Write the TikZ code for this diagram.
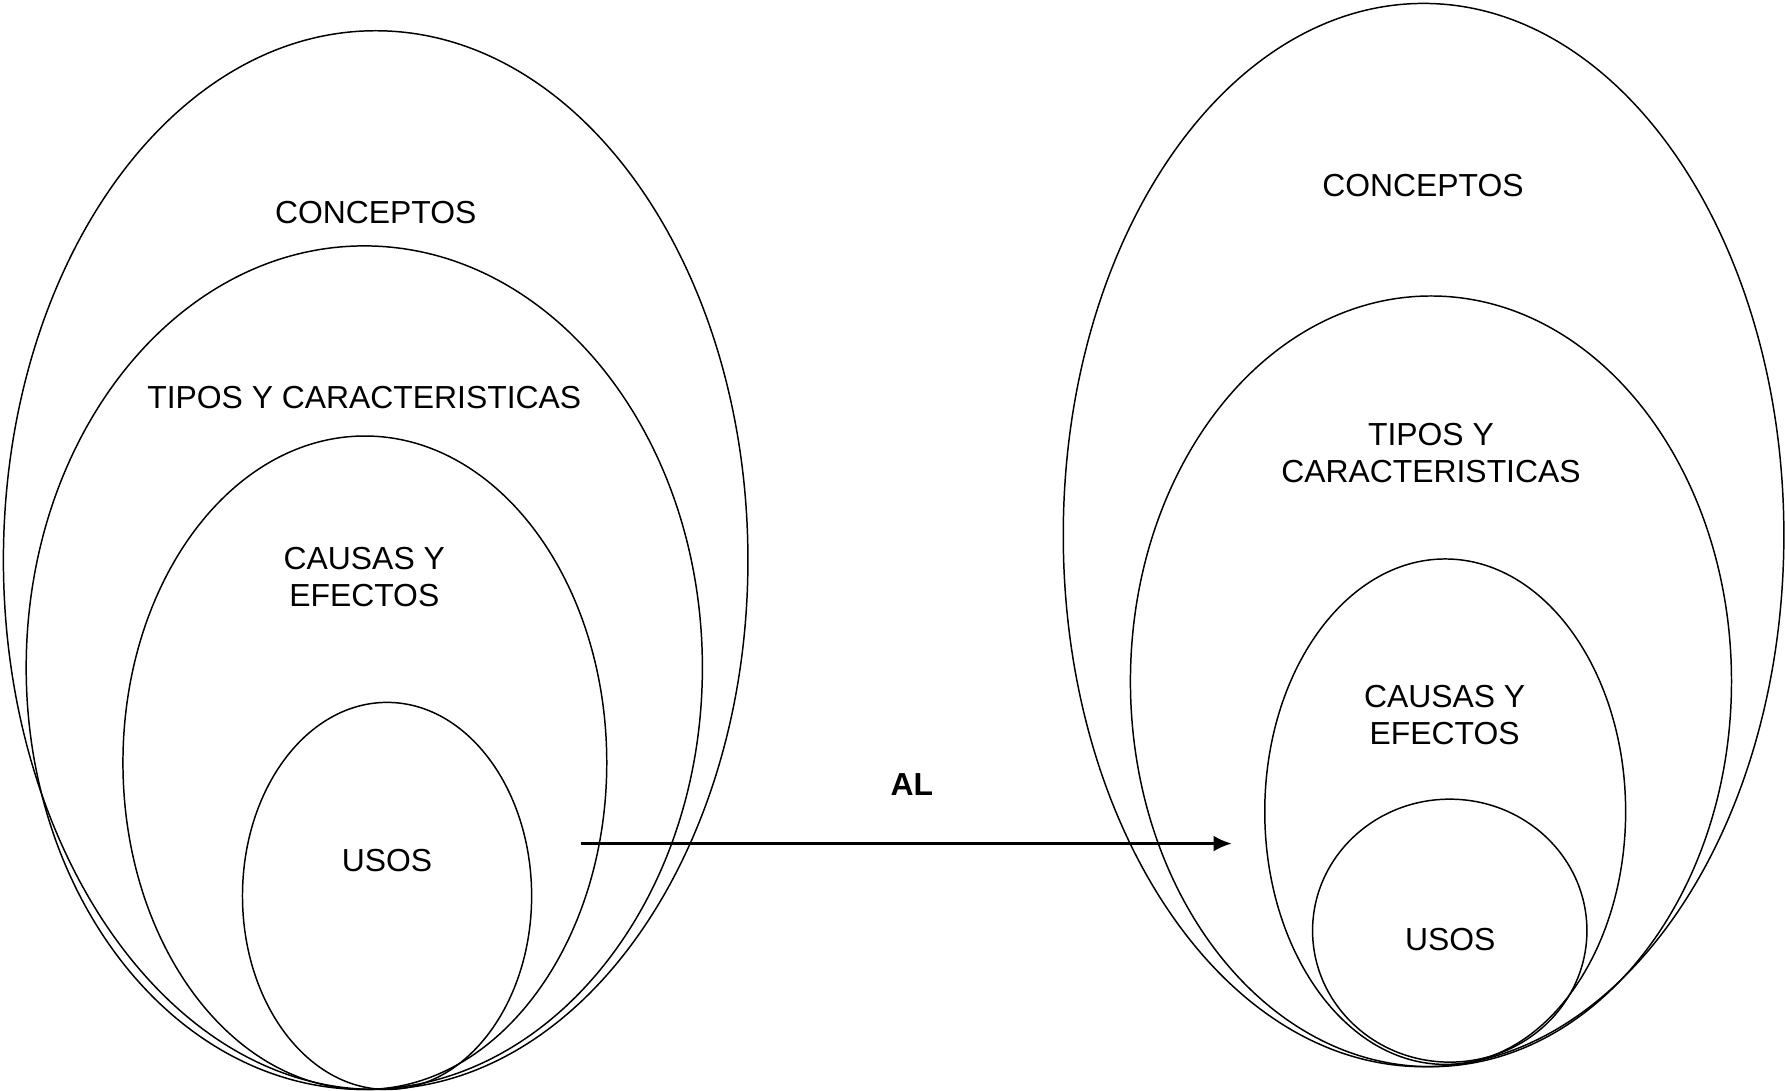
\documentclass[tikz,border=0pt]{standalone}
\usepackage{fontspec}
\setmainfont{Liberation Sans}
\usetikzlibrary{arrows.meta}
\tikzset{
  ring/.style={draw=black, line width=0.65pt},
  lbl/.style={font=\fontsize{14pt}{16pt}\selectfont, align=center, inner sep=0pt},
  flow/.style={draw=black, line width=1.2pt, -{Latex[length=8pt,width=7pt]}}
}
\begin{document}
\begin{tikzpicture}[x=0.5pt,y=-0.5pt]
\useasboundingbox (0,0) rectangle (1568,958);
% left group
\draw[ring] (330,492) ellipse [x radius=163.5pt, y radius=232.5pt];
\draw[ring] (320,586.5) ellipse [x radius=148.5pt, y radius=185.25pt];
\draw[ring] (320.5,670) ellipse [x radius=106.25pt, y radius=143.5pt];
\draw[ring] (340,787) ellipse [x radius=63.5pt, y radius=85pt];
\node[lbl] (lc) at (330,187) {CONCEPTOS};
\node[lbl] (lt) at (320,349) {TIPOS Y CARACTERISTICAS};
\node[lbl] (lcau) at (320,507) {CAUSAS Y\\EFECTOS};
\node[lbl] (lu) at (340,756) {USOS};
% right group
\draw[ring] (1250.5,470) ellipse [x radius=158.25pt, y radius=233.5pt];
\draw[ring] (1257,598.5) ellipse [x radius=132pt, y radius=169.25pt];
\draw[ring] (1269.5,713) ellipse [x radius=79.25pt, y radius=111pt];
\draw[ring] (1273.5,817.5) ellipse [x radius=60.25pt, y radius=57.75pt];
\node[lbl] (rc) at (1250,163) {CONCEPTOS};
\node[lbl] (rt) at (1257,398) {TIPOS Y\\CARACTERISTICAS};
\node[lbl] (rcau) at (1269,628) {CAUSAS Y\\EFECTOS};
\node[lbl] (ru) at (1274,825) {USOS};
% arrow
\coordinate (as) at (510,741);
\coordinate (ae) at (1082,741);
\draw[flow] (as) -- (ae);
\node[lbl, font=\fontsize{14pt}{16pt}\selectfont\bfseries] (al) at (801,689) {AL};
\end{tikzpicture}
\end{document}
